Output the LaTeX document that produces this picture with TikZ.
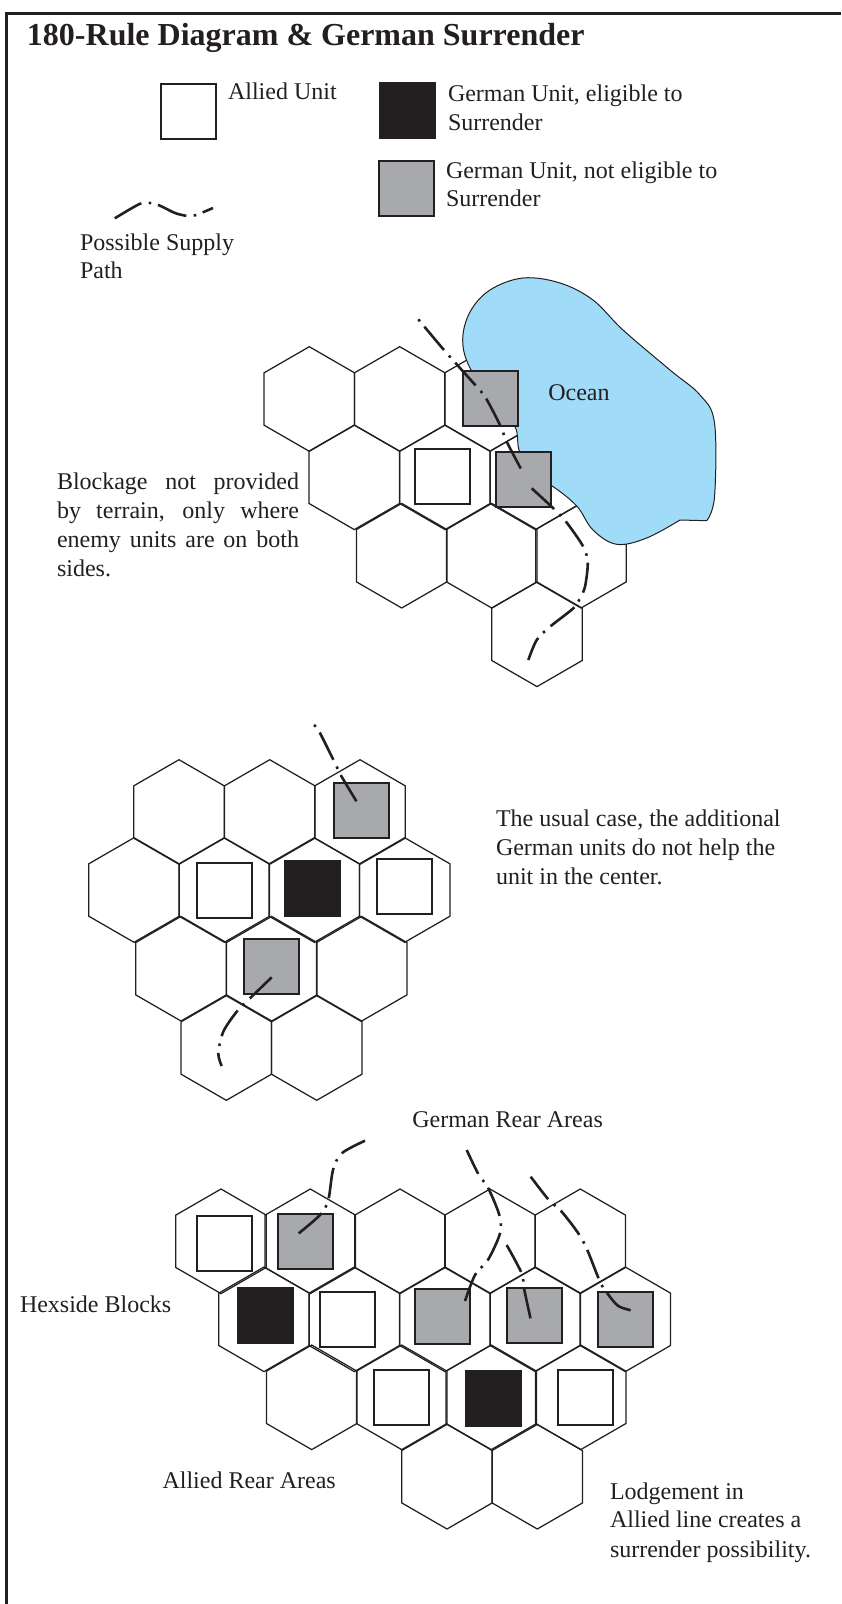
\documentclass[tikz,border=0pt]{standalone}
\usepackage{fontspec}
\usepackage{xcolor}
\usepackage{tikz}
\setmainfont{Liberation Serif}
\definecolor{inkblack}{HTML}{231F20}
\definecolor{unitgray}{HTML}{A7A9AC}
\definecolor{oceanblue}{HTML}{A0DCF8}
\usetikzlibrary{shapes.geometric}

\begin{document}
\begin{tikzpicture}[
				x=1pt, y=-1pt,
				% --- STYLES ---
				hexcell/.style={
					regular polygon, regular polygon sides=6, draw=inkblack, line width=1.25pt,
					minimum size=104.6pt, inner sep=0pt, outer sep=0pt, shape border rotate=30
				},
				unitbox/.style={
					rectangle, draw=inkblack, line width=2pt, minimum size=55pt, inner sep=0pt, outer sep=0pt
				},
				alliedunit/.style={unitbox, fill=white},
				germanfree/.style={unitbox, fill=inkblack},
				germanstuck/.style={unitbox, fill=unitgray},
				supply/.style={
					draw=inkblack, line width=2.6pt, dash pattern=on 30.5pt off 7.5pt on 2.5pt off 7pt
				},
				oceanshape/.style={
					draw=inkblack, line width=1pt, fill=oceanblue
				},
				frameline/.style={
					draw=inkblack, line width=3pt
				},
				label/.style={
					anchor=base west, inner sep=0pt, outer sep=0pt, text=inkblack, align=left,
					font=\fontsize{24}{29}\selectfont
				},
				titlelabel/.style={
					label, font=\fontsize{32}{36}\selectfont\bfseries
				}
				]
				\useasboundingbox (0,0) rectangle (841,1604);
				
				% ==========================================
				% 1. Frame, title and legend
				% ==========================================
				\draw [frameline] (6,1604) |- (841,13);
				\node [titlelabel] (title) at (27,45) {180-Rule Diagram \& German Surrender};
				
				\node [alliedunit] (key_allied) at (188.5,111) {};
				\node [germanfree] (key_free) at (407.5,110.5) {};
				\node [germanstuck] (key_stuck) at (406.5,188.5) {};
				\node [label] (key_allied_text) at (228,99.3) {Allied Unit};
				\node [label] (key_free_text) at (448,101.7) {German Unit, eligible to};
				\node [label] (key_free_text2) at (448,130.7) {Surrender};
				\node [label] (key_stuck_text) at (446,178.7) {German Unit, not eligible to};
				\node [label] (key_stuck_text2) at (446,206.7) {Surrender};
				\draw [supply] plot [smooth] coordinates {(114.8,218.3) (139.5,204) (150,203) (160,205.7) (175,213) (187.8,216) (196,215) (213,208)};
				\node [label] (key_path_text) at (80,250) {Possible Supply};
				\node [label] (key_path_text2) at (80,278) {Path};
				
				% ==========================================
				% 2. Ocean diagram
				% ==========================================
				\foreach \hx/\hy/\hname in {309.3/399/a1, 399.7/399/a2, 490/399/a3,
					354.3/477.3/a4, 445/477.3/a5, 535.3/477.3/a6,
					401.7/555.7/a7, 491.7/555.7/a8, 581/555.7/a9,
					537/634.3/a10}
					\node [hexcell] (hex_\hname) at (\hx,\hy) {};
				
				\draw [oceanshape] plot [smooth, tension=0.6] coordinates {(706.7,520.7) (714.5,497) (714.5,423) (700,395) (670,370) (623,330) (593,300) (560,283) (523,278) (490,290) (470,312) (462.7,340) (470,368) (495,405) (515,426.7) (519,450) (530,475) (551.7,485.7) (576.7,506) (593,530) (616.7,544.3) (646.7,538) (680,520)} -- cycle;
				\node [label] (ocean_text) at (548.3,400.7) {Ocean};
				
				\node [germanstuck] (unit_a1) at (490.3,398.5) {};
				\node [germanstuck] (unit_a2) at (523.2,479.2) {};
				\node [alliedunit] (unit_a3) at (442.5,476.3) {};
				
				\draw [supply, dash phase=38pt] plot [smooth] coordinates {(418.3,319.3) (444,350) (476.7,386.7) (486,398.3) (500,425) (506.7,441.7) (521,469)};
				\draw [supply] plot [smooth] coordinates {(531.7,488.3) (553.3,508.3) (566,521.7) (583.3,546.7) (587.7,563.3) (585,586.7) (580,598.3) (573.3,608.3) (550,626.7) (536.7,640) (528.3,660)};
				
				\node [label] (block_text) at (57,489) {\makebox[242pt][s]{Blockage not provided}};
				\node [label] (block_text2) at (57,518) {\makebox[242pt][s]{by terrain, only where}};
				\node [label] (block_text3) at (57,547) {\makebox[242pt][s]{enemy units are on both}};
				\node [label] (block_text4) at (57,576) {sides.};
				
				% ==========================================
				% 3. Usual case diagram
				% ==========================================
				\foreach \hx/\hy/\hname in {179/812/b1, 269.7/812/b2, 360/812/b3,
					134/890/b4, 224.3/890/b5, 314.3/890/b6, 404.7/890/b7,
					181/968.7/b8, 271.7/968.7/b9, 361.7/968.7/b10,
					226.3/1048/b11, 316.7/1048/b12}
					\node [hexcell] (hex_\hname) at (\hx,\hy) {};
				
				\node [germanstuck] (unit_b1) at (361.7,810) {};
				\node [alliedunit] (unit_b2) at (224.3,890) {};
				\node [germanfree] (unit_b3) at (312.8,888.3) {};
				\node [alliedunit] (unit_b4) at (404,886.7) {};
				\node [germanstuck] (unit_b5) at (271.7,966.3) {};
				
				\draw [supply, dash phase=38pt] plot [smooth] coordinates {(314,725) (319.3,731.7) (334.3,761.7) (340.7,775) (357.3,802.7)};
				\draw [supply] plot [smooth] coordinates {(271.7,977.3) (250,998.3) (236.7,1011.7) (223.3,1031.7) (218.3,1053.3) (221.7,1066)};
				
				\node [label] (usual_text) at (496,826) {The usual case, the additional};
				\node [label] (usual_text2) at (496,855) {German units do not help the};
				\node [label] (usual_text3) at (496,884) {unit in the center.};
				
				% ==========================================
				% 4. Lodgement diagram
				% ==========================================
				\foreach \hx/\hy/\hname in {221/1241.3/c1, 310.3/1241.3/c2, 400/1241.3/c3, 490/1241.3/c4, 580.3/1241.3/c5,
					264/1319.3/c6, 354.3/1319.3/c7, 445/1319.3/c8, 535.3/1319.3/c9, 625.3/1319.3/c10,
					311.7/1397.3/c11, 401.7/1397.3/c12, 491.3/1397.3/c13, 580.7/1397.3/c14,
					447/1476.7/c15, 537.3/1476.7/c16}
					\node [hexcell] (hex_\hname) at (\hx,\hy) {};
				
				\node [alliedunit] (unit_c1) at (224.3,1243.8) {};
				\node [germanstuck] (unit_c2) at (305.2,1241.2) {};
				\node [germanfree] (unit_c3) at (265.8,1315.2) {};
				\node [alliedunit] (unit_c4) at (347.8,1319.2) {};
				\node [germanstuck] (unit_c5) at (442.3,1316.7) {};
				\node [germanstuck] (unit_c6) at (534.3,1315.5) {};
				\node [germanstuck] (unit_c7) at (625.3,1319.8) {};
				\node [alliedunit] (unit_c8) at (401.8,1397.5) {};
				\node [germanfree] (unit_c9) at (493.5,1398.2) {};
				\node [alliedunit] (unit_c10) at (585,1397.5) {};
				
				\draw [supply, dash phase=4pt] plot [smooth] coordinates {(365,1140.7) (341.7,1153.3) (333,1170) (328.3,1200) (320,1215) (296.7,1235)};
				\draw [supply, dash phase=4pt] plot [smooth] coordinates {(466.7,1150) (478.3,1174) (488.3,1188.3) (499.3,1215) (500,1233.3) (488.3,1259.3) (475,1275) (465,1301)};
				\draw [supply] plot [smooth] coordinates {(506.7,1245) (521.7,1273.3) (524,1288.3) (530.7,1319.3)};
				\draw [supply, dash phase=2pt] plot [smooth] coordinates {(530.7,1176.7) (548.3,1199.3) (561.7,1211.7) (578.3,1233.3) (587.3,1250) (600,1281.7) (607.3,1293.3) (618.3,1306) (632.7,1310.7)};
				
				\node [label] (rear_german) at (412.3,1127.3) {German Rear Areas};
				\node [label] (hexside_text) at (20,1312) {Hexside Blocks};
				\node [label] (rear_allied) at (162.5,1488.3) {Allied Rear Areas};
				\node [label] (lodge_text) at (610,1499) {Lodgement in};
				\node [label] (lodge_text2) at (610,1527) {Allied line creates a};
				\node [label] (lodge_text3) at (610,1557) {surrender possibility.};
			\end{tikzpicture}
\end{document}
